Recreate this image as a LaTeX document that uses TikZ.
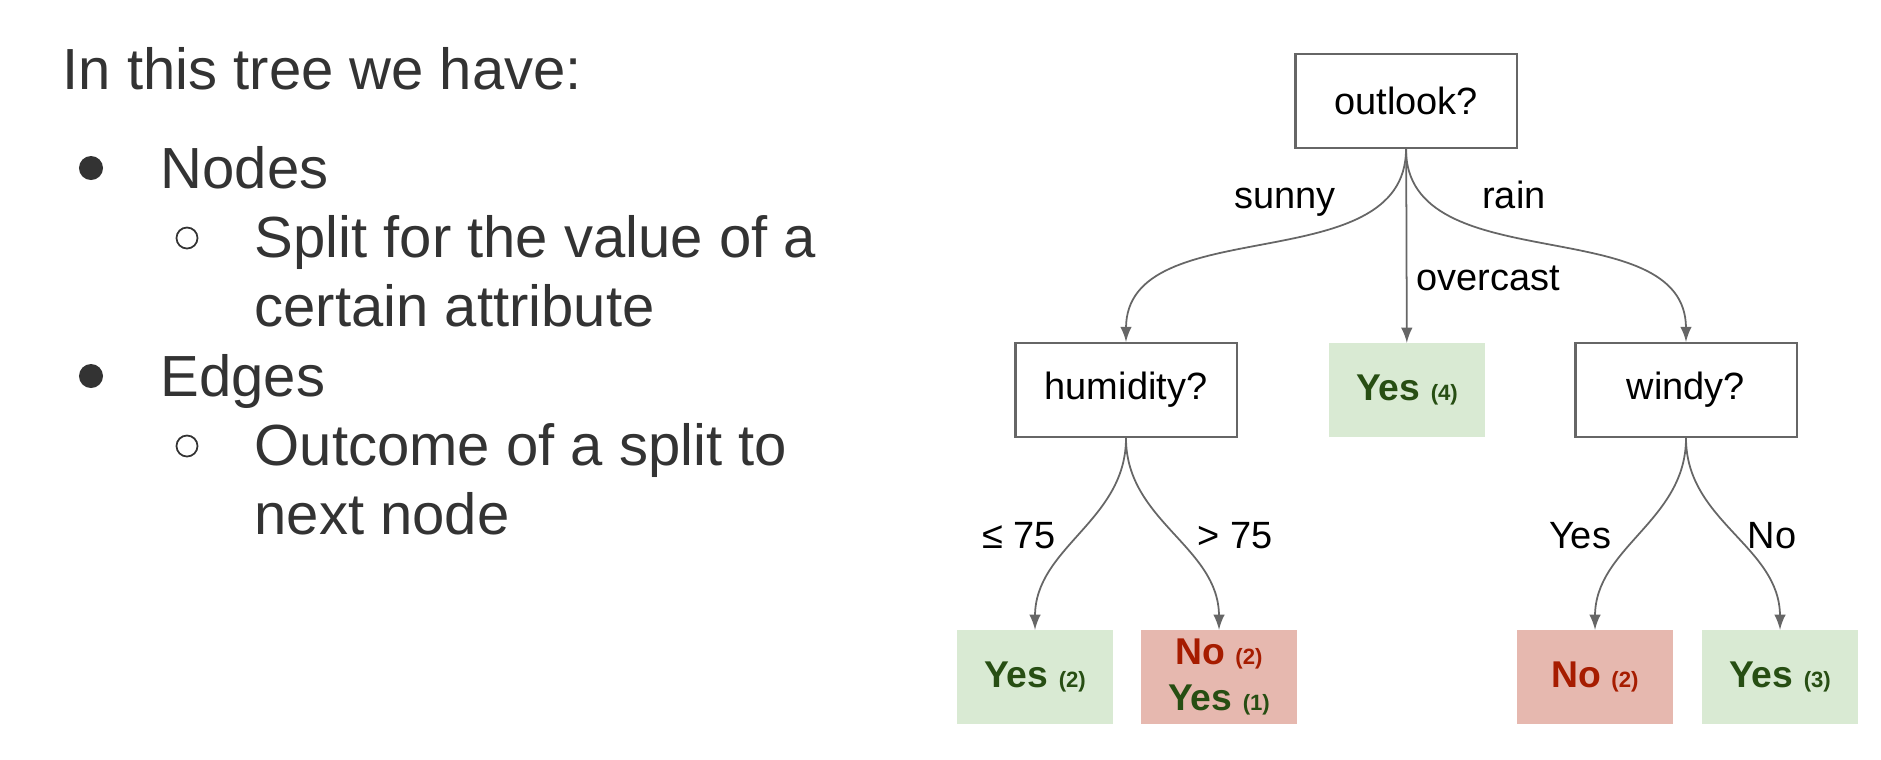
\documentclass[tikz,border=0pt]{standalone}
\usepackage{fontspec}
\setmainfont{Liberation Sans}
\usepackage{tikz}
\usepackage{xcolor}
\usetikzlibrary{arrows}
\usetikzlibrary{positioning}

\definecolor{leafgreen}{HTML}{D9EAD3}
\definecolor{darkgreen}{HTML}{274E13}
\definecolor{leafred}{HTML}{E6B8AF}
\definecolor{darkred}{HTML}{A61C00}
\definecolor{edgegray}{HTML}{666666}
\definecolor{textgray}{HTML}{333333}
\newcommand{\cnt}[1]{{\fontsize{6.3}{7}\selectfont(#1)}}

\begin{document}
\begin{tikzpicture}[>=latex, x=0.01cm, y=-0.01cm,
  test/.style={draw=edgegray, line width=0.6pt, minimum width=2.21cm, minimum height=0.94cm, inner sep=0pt, font=\fontsize{10.8}{13}\selectfont},
  leaf/.style={minimum width=1.56cm, minimum height=0.93cm, inner sep=0pt, align=center, font=\fontsize{10.6}{13.2}\selectfont\bfseries},
  yesleaf/.style={leaf, fill=leafgreen},
  noleaf/.style={leaf, fill=leafred},
  lbl/.style={anchor=base, inner sep=0pt, font=\fontsize{10.8}{13}\selectfont},
  txt/.style={anchor=base west, inner sep=0pt, text=textgray, font=\fontsize{16.5}{20}\selectfont},
  dot/.style={circle, fill=textgray, minimum size=0.24cm, inner sep=0pt},
  ring/.style={circle, draw=textgray, line width=0.5pt, minimum size=0.21cm, inner sep=0pt}]

  \useasboundingbox (0,0) rectangle (1881,759);

  % left text
  \node[txt] (head) at (62,89) {In this tree we have:};
  \node[dot] (d1) at (91,168) {};
  \node[txt] (nodes) at (160,188) {Nodes};
  \node[ring] (r1) at (187,238) {};
  \node[txt] (split) at (254,257) {Split for the value of a};
  \node[txt] (attr) at (254,326) {certain attribute};
  \node[dot] (d2) at (91,376) {};
  \node[txt] (edges) at (160,396) {Edges};
  \node[ring] (r2) at (187,446) {};
  \node[txt] (outcome) at (254,465) {Outcome of a split to};
  \node[txt] (next) at (254,534) {next node};

  % tree
  \node[test] (outlook) at (1406,101) {outlook?};
  \node[test] (humidity) at (1126,390) {humidity?};
  \node[yesleaf] (yes4) at (1407,390) {{\color{darkgreen}Yes \cnt{4}}};
  \node[test] (windy) at (1686,390) {windy?};
  \node[yesleaf] (yes2) at (1035,677) {{\color{darkgreen}Yes \cnt{2}}};
  \node[noleaf] (noyes) at (1219,677) {{\color{darkred}No \cnt{2}}\\{\color{darkgreen}Yes \cnt{1}}};
  \node[noleaf] (no2) at (1595,677) {{\color{darkred}No \cnt{2}}};
  \node[yesleaf] (yes3) at (1780,677) {{\color{darkgreen}Yes \cnt{3}}};

  \draw[->, edgegray, line width=0.5pt] (outlook) edge[out=-90, in=90] (humidity);
  \draw[->, edgegray, line width=0.5pt] (outlook) edge (yes4);
  \draw[->, edgegray, line width=0.5pt] (outlook) edge[out=-90, in=90] (windy);
  \draw[->, edgegray, line width=0.5pt] (humidity) edge[out=-90, in=90] (yes2);
  \draw[->, edgegray, line width=0.5pt] (humidity) edge[out=-90, in=90] (noyes);
  \draw[->, edgegray, line width=0.5pt] (windy) edge[out=-90, in=90] (no2);
  \draw[->, edgegray, line width=0.5pt] (windy) edge[out=-90, in=90] (yes3);

  \node[lbl] (sunny) at (1285,208) {sunny};
  \node[lbl] (rain) at (1514,208) {rain};
  \node[lbl] (overcast) at (1488,290) {overcast};
  \node[lbl] (le) at (1019,548) {≤ 75};
  \node[lbl] (gt) at (1235,548) {> 75};
  \node[lbl] (yeslbl) at (1580,548) {Yes};
  \node[lbl] (nolbl) at (1772,548) {No};

\end{tikzpicture}
\end{document}
